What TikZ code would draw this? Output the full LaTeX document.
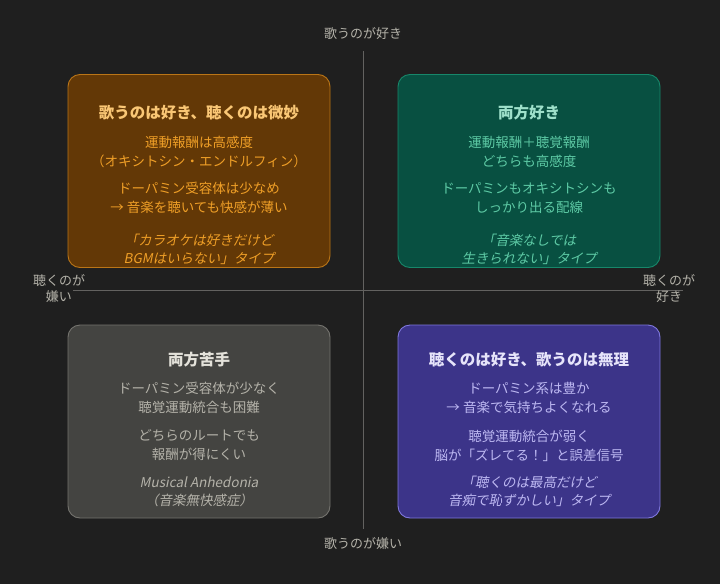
\documentclass[tikz,border=0pt]{standalone}
\usepackage{fontspec}
\setmainfont{Noto Sans CJK JP}
\newfontfamily\jpit[FakeSlant=0.2]{Noto Sans CJK JP}
\definecolor{bgc}{HTML}{1F1F1F}
\definecolor{axisc}{HTML}{636260}
\definecolor{axtext}{HTML}{B4B2A9}
\definecolor{amFill}{HTML}{633806}
\definecolor{amLine}{HTML}{BA7517}
\definecolor{amTitle}{HTML}{FAC775}
\definecolor{amBody}{HTML}{EF9F27}
\definecolor{teFill}{HTML}{085041}
\definecolor{teLine}{HTML}{17876A}
\definecolor{teTitle}{HTML}{9FE1CB}
\definecolor{teBody}{HTML}{5DCAA5}
\definecolor{grFill}{HTML}{444441}
\definecolor{grLine}{HTML}{74736E}
\definecolor{grTitle}{HTML}{E4E2DA}
\definecolor{grBody}{HTML}{B4B2A9}
\definecolor{puFill}{HTML}{3C3489}
\definecolor{puLine}{HTML}{7F77DD}
\definecolor{puTitle}{HTML}{E6E4FA}
\definecolor{puBody}{HTML}{BDB8F2}
\tikzset{
  quad/.style={rounded corners=12pt, line width=0.9pt, minimum width=262pt, minimum height=193pt, inner sep=0pt},
  qtitle/.style={font=\fontsize{15.5}{18}\selectfont\bfseries, inner sep=0pt},
  qbody/.style={font=\fontsize{13.5}{19}\selectfont, align=center, inner sep=0pt},
  qital/.style={font=\fontsize{13.5}{18}\selectfont\jpit, align=center, inner sep=0pt},
  axlabel/.style={font=\fontsize{13}{16}\selectfont, text=axtext, align=center, inner sep=0pt},
  axline/.style={draw=axisc, line width=0.8pt}
}
\begin{document}
\begin{tikzpicture}[x=1pt,y=-1pt]
\fill[bgc] (0,0) rectangle (720,584);
\useasboundingbox (0,0) rectangle (720,584);
% axes
\coordinate (vt) at (363,51);
\coordinate (vb) at (363,529);
\coordinate (hl) at (73,290.5);
\coordinate (hr) at (683,290.5);
\draw[axline] (vt) -- (vb);
\draw[axline] (hl) -- (hr);
\node[axlabel] (ltop) at (363,34) {歌うのが好き};
\node[axlabel] (lbot) at (363,544) {歌うのが嫌い};
\node[axlabel] (lleft) at (59,289) {聴くのが\\嫌い};
\node[axlabel] (lright) at (669,289) {聴くのが\\好き};
% top-left
\node[quad, fill=amFill, draw=amLine] (tl) at (199,171) {};
\node[qtitle, text=amTitle] (tlt) at (199,113) {歌うのは好き、聴くのは微妙};
\node[qbody, text=amBody] (tlb1) at (199,151.5) {運動報酬は高感度\\（オキシトシン・エンドルフィン）};
\node[qbody, text=amBody] (tlb2) at (199,198) {ドーパミン受容体は少なめ\\→ 音楽を聴いても快感が薄い};
\node[qital, text=amBody] (tli) at (199,249) {「カラオケは好きだけど\\BGMはいらない」タイプ};
% top-right
\node[quad, fill=teFill, draw=teLine] (tr) at (529,171) {};
\node[qtitle, text=teTitle] (trt) at (529,113) {両方好き};
\node[qbody, text=teBody] (trb1) at (529,151.5) {運動報酬＋聴覚報酬\\どちらも高感度};
\node[qbody, text=teBody] (trb2) at (529,198) {ドーパミンもオキシトシンも\\しっかり出る配線};
\node[qital, text=teBody] (tri) at (529,249) {「音楽なしでは\\生きられない」タイプ};
% bottom-left
\node[quad, fill=grFill, draw=grLine] (bl) at (199,421.5) {};
\node[qtitle, text=grTitle] (blt) at (199,360) {両方苦手};
\node[qbody, text=grBody] (blb1) at (199,398) {ドーパミン受容体が少なく\\聴覚運動統合も困難};
\node[qbody, text=grBody] (blb2) at (199,445.5) {どちらのルートでも\\報酬が得にくい};
\node[qital, text=grBody] (bli) at (199,491.5) {Musical Anhedonia\\（音楽無快感症）};
% bottom-right
\node[quad, fill=puFill, draw=puLine] (br) at (529,421.5) {};
\node[qtitle, text=puTitle] (brt) at (529,360) {聴くのは好き、歌うのは無理};
\node[qbody, text=puBody] (brb1) at (529,398) {ドーパミン系は豊か\\→ 音楽で気持ちよくなれる};
\node[qbody, text=puBody] (brb2) at (529,445.5) {聴覚運動統合が弱く\\脳が「ズレてる！」と誤差信号};
\node[qital, text=puBody] (bri) at (529,491.5) {「聴くのは最高だけど\\音痴で恥ずかしい」タイプ};
\end{tikzpicture}
\end{document}
